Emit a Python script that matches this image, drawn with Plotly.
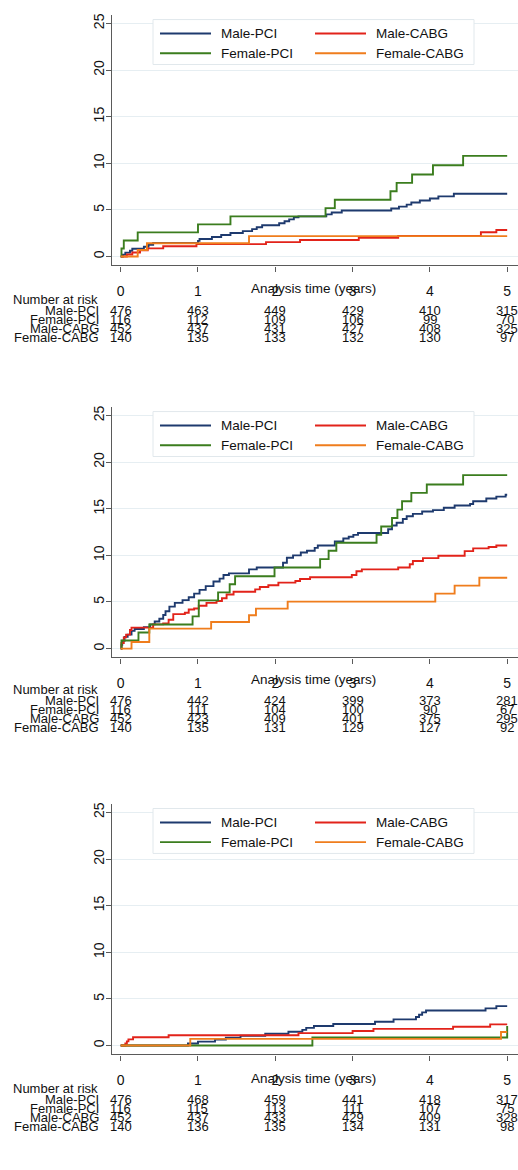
import plotly.graph_objects as go

# ---------------- data ----------------
groups = ["Male-PCI", "Male-CABG", "Female-PCI", "Female-CABG"]
table_groups = ["Male-PCI", "Female-PCI", "Male-CABG", "Female-CABG"]
risk_times = [0, 1, 2, 3, 4, 5]
y_ticks = [0, 5, 10, 15, 20, 25]

# Panel 1 cumulative incidence (%) step points
p1_mpci_t = [0, 0.03, 0.06, 0.12, 0.15, 0.30, 0.36, 0.42, 1.00, 1.02, 1.18, 1.30, 1.42, 1.58, 1.70, 1.76, 1.83, 2.05, 2.12, 2.18, 2.24, 2.30, 2.66, 2.73, 2.86, 3.50, 3.60, 3.70, 3.76, 3.87, 4.00, 4.11, 4.31, 5.00]
p1_mpci_v = [0, 0.21, 0.42, 0.63, 0.84, 1.05, 1.26, 1.47, 1.68, 1.89, 2.10, 2.31, 2.52, 2.73, 2.94, 3.15, 3.36, 3.57, 3.78, 3.99, 4.20, 4.31, 4.52, 4.73, 4.94, 5.15, 5.36, 5.57, 5.80, 6.01, 6.22, 6.45, 6.73, 6.73]
p1_fpci_t = [0, 0.01, 0.04, 0.22, 1.00, 1.42, 2.65, 2.77, 3.49, 3.57, 3.77, 4.04, 4.43, 5.00]
p1_fpci_v = [0, 0.86, 1.72, 2.59, 3.45, 4.31, 5.20, 6.10, 7.00, 7.90, 8.80, 9.80, 10.80, 10.80]
p1_mcabg_t = [0, 0.08, 0.15, 0.25, 0.35, 0.55, 0.98, 1.88, 2.32, 3.08, 3.59, 4.66, 4.86, 5.00]
p1_mcabg_v = [0, 0.22, 0.44, 0.66, 0.88, 1.10, 1.33, 1.55, 1.77, 2.00, 2.22, 2.60, 2.85, 2.85]
p1_fcabg_t = [0, 0.22, 0.34, 1.66, 5.00]
p1_fcabg_v = [0, 0.71, 1.43, 2.19, 2.19]

# Panel 2
p2_mpci_t = [0, 0.01, 0.02, 0.05, 0.09, 0.14, 0.18, 0.30, 0.38, 0.44, 0.50, 0.55, 0.58, 0.63, 0.70, 0.80, 0.88, 0.95, 1.02, 1.10, 1.20, 1.28, 1.33, 1.40, 1.66, 1.76, 2.10, 2.15, 2.23, 2.33, 2.41, 2.51, 2.55, 2.77, 2.88, 2.95, 3.01, 3.07, 3.46, 3.51, 3.57, 3.65, 3.70, 3.78, 3.90, 4.04, 4.18, 4.32, 4.52, 4.56, 4.73, 4.86, 4.98, 5.00]
p2_mpci_v = [0, 0.42, 0.84, 1.26, 1.50, 1.90, 2.10, 2.30, 2.60, 2.90, 3.20, 3.60, 4.00, 4.50, 4.90, 5.20, 5.50, 5.90, 6.30, 6.70, 7.20, 7.50, 7.90, 8.07, 8.50, 8.70, 9.20, 9.75, 10.00, 10.30, 10.50, 10.80, 11.05, 11.50, 11.80, 12.00, 12.20, 12.40, 12.80, 13.20, 13.50, 13.90, 14.20, 14.45, 14.70, 14.85, 15.10, 15.35, 15.50, 15.80, 16.10, 16.30, 16.50, 16.50]
p2_fpci_t = [0, 0.01, 0.23, 0.37, 0.93, 1.01, 1.26, 1.41, 1.48, 1.99, 2.58, 2.69, 2.79, 3.31, 3.37, 3.51, 3.58, 3.64, 3.76, 3.96, 4.43, 5.00]
p2_fpci_v = [0, 0.86, 1.72, 2.59, 3.45, 5.17, 6.03, 6.90, 7.76, 8.70, 9.60, 10.50, 11.35, 12.20, 13.10, 14.00, 14.90, 15.80, 16.70, 17.60, 18.60, 18.60]
p2_mcabg_t = [0, 0.01, 0.04, 0.07, 0.12, 0.14, 0.42, 0.55, 0.62, 0.68, 0.83, 0.88, 0.95, 1.01, 1.11, 1.24, 1.31, 1.37, 1.46, 1.74, 1.80, 1.91, 2.04, 2.26, 2.32, 2.45, 2.99, 3.05, 3.12, 3.59, 3.74, 3.78, 3.91, 4.11, 4.45, 4.56, 4.76, 4.86, 5.00]
p2_mcabg_v = [0, 0.60, 1.20, 1.50, 2.00, 2.25, 2.60, 2.70, 3.10, 3.70, 3.85, 4.20, 4.30, 4.60, 4.90, 5.10, 5.40, 5.80, 6.10, 6.35, 6.60, 6.80, 7.07, 7.25, 7.46, 7.65, 7.90, 8.30, 8.50, 8.70, 9.05, 9.40, 9.70, 9.95, 10.45, 10.75, 10.90, 11.05, 11.05]
p2_fcabg_t = [0, 0.14, 0.37, 1.17, 1.66, 1.75, 2.16, 4.07, 4.32, 4.64, 5.00]
p2_fcabg_v = [0, 0.71, 2.14, 2.86, 3.57, 4.29, 5.04, 5.90, 6.75, 7.60, 7.60]

# Panel 3
p3_mpci_t = [0, 0.87, 1.00, 1.22, 1.36, 1.55, 1.87, 2.17, 2.35, 2.40, 2.50, 2.75, 3.29, 3.53, 3.82, 3.86, 3.90, 3.95, 4.72, 4.86, 5.00]
p3_mpci_v = [0, 0.21, 0.42, 0.63, 0.84, 1.05, 1.26, 1.47, 1.68, 1.89, 2.10, 2.31, 2.55, 2.80, 3.05, 3.30, 3.55, 3.75, 3.98, 4.22, 4.22]
p3_fpci_t = [0, 2.48, 5.00]
p3_fpci_v = [0, 0.86, 2.10]
p3_mcabg_t = [0, 0.06, 0.08, 0.10, 0.16, 0.62, 2.30, 3.00, 3.27, 4.30, 4.78, 5.00]
p3_mcabg_v = [0, 0.22, 0.44, 0.66, 0.88, 1.10, 1.33, 1.55, 1.78, 2.02, 2.27, 2.27]
p3_fcabg_t = [0, 0.90, 4.92, 5.00]
p3_fcabg_v = [0, 0.71, 1.45, 1.45]

# Number at risk tables
p1_risk_mpci = [476, 463, 449, 429, 410, 315]
p1_risk_fpci = [116, 112, 109, 106, 99, 70]
p1_risk_mcabg = [452, 437, 431, 427, 408, 325]
p1_risk_fcabg = [140, 135, 133, 132, 130, 97]
p2_risk_mpci = [476, 442, 424, 399, 373, 281]
p2_risk_fpci = [116, 111, 104, 100, 90, 67]
p2_risk_mcabg = [452, 423, 409, 401, 375, 295]
p2_risk_fcabg = [140, 135, 131, 129, 127, 92]
p3_risk_mpci = [476, 468, 459, 441, 418, 317]
p3_risk_fpci = [116, 115, 113, 111, 107, 75]
p3_risk_mcabg = [452, 437, 433, 429, 409, 328]
p3_risk_fcabg = [140, 136, 135, 134, 131, 98]

# ---------------- styling / layout ----------------
W, H = 518, 1170
FONT = "Liberation Sans, Arial, sans-serif"
FS = 13.5
FS_TAB = 13
AXC = "#5a5a5a"
colors = {"Male-PCI": "#1e3a6e", "Male-CABG": "#e2231a",
          "Female-PCI": "#3b7d1e", "Female-CABG": "#ef7d1d"}

panels = [
    {"curves": {"Male-PCI": (p1_mpci_t, p1_mpci_v), "Male-CABG": (p1_mcabg_t, p1_mcabg_v),
                "Female-PCI": (p1_fpci_t, p1_fpci_v), "Female-CABG": (p1_fcabg_t, p1_fcabg_v)},
     "risk": {"Male-PCI": p1_risk_mpci, "Female-PCI": p1_risk_fpci,
              "Male-CABG": p1_risk_mcabg, "Female-CABG": p1_risk_fcabg},
     "y0": 255.0, "tshift": 0.0},
    {"curves": {"Male-PCI": (p2_mpci_t, p2_mpci_v), "Male-CABG": (p2_mcabg_t, p2_mcabg_v),
                "Female-PCI": (p2_fpci_t, p2_fpci_v), "Female-CABG": (p2_fcabg_t, p2_fcabg_v)},
     "risk": {"Male-PCI": p2_risk_mpci, "Female-PCI": p2_risk_fpci,
              "Male-CABG": p2_risk_mcabg, "Female-CABG": p2_risk_fcabg},
     "y0": 647.7, "tshift": -1.8},
    {"curves": {"Male-PCI": (p3_mpci_t, p3_mpci_v), "Male-CABG": (p3_mcabg_t, p3_mcabg_v),
                "Female-PCI": (p3_fpci_t, p3_fpci_v), "Female-CABG": (p3_fcabg_t, p3_fcabg_v)},
     "risk": {"Male-PCI": p3_risk_mpci, "Female-PCI": p3_risk_fpci,
              "Male-CABG": p3_risk_mcabg, "Female-CABG": p3_risk_fcabg},
     "y0": 1045.3, "tshift": 0.3},
]

SCALE = 9.34          # px per y unit
YR = [-0.95, 25.9]
XR = [-0.1125, 5.14]
X_LEFT = 112

# legend box geometry (pixels)
LEG_L, LEG_R, LEG_H = 153, 474, 45
LEG_COL_X = [160, 315]
LEG_LINE_LEN = 51
LEG_TEXT_DX = 59
LEG_ROW_DY = [14, 33.7]


def xp(px):
    return px / W


def yp(py):
    return 1 - py / H


fig = go.Figure()
layout = dict(width=W, height=H, margin=dict(l=0, r=0, t=0, b=0),
              paper_bgcolor="white", plot_bgcolor="white",
              font=dict(family=FONT, size=FS, color="#111"),
              showlegend=False, annotations=[], shapes=[])

for k, p in enumerate(panels):
    n = k + 1
    xa = "x" if n == 1 else f"x{n}"
    ya = "y" if n == 1 else f"y{n}"
    bottom = p["y0"] - YR[0] * SCALE
    top = p["y0"] - YR[1] * SCALE
    for g in groups:
        t, v = p["curves"][g]
        fig.add_trace(go.Scatter(x=t, y=v, mode="lines", line=dict(color=colors[g], width=1.9, shape="hv"),
                                 name=g, xaxis=xa, yaxis=ya, hoverinfo="skip", showlegend=False))
    axl = dict(showline=True, linecolor=AXC, linewidth=1.4, ticks="outside",
               ticklen=5, tickwidth=1.2, tickcolor=AXC, zeroline=False,
               tickfont=dict(family=FONT, size=14, color="#111"))
    layout["xaxis" if n == 1 else f"xaxis{n}"] = dict(
        axl, domain=[X_LEFT / W, 1.0], range=XR, tickvals=risk_times, showgrid=False,
        anchor=ya, ticklabelstandoff=8)
    layout["yaxis" if n == 1 else f"yaxis{n}"] = dict(
        axl, domain=[yp(bottom), yp(top)], range=YR, tickvals=y_ticks,
        tickangle=-90, showgrid=True, gridcolor="#e6eef2", gridwidth=1, anchor=xa,
        ticklabelstandoff=-4)

    # legend (boxed, two columns)
    ltop = top + 4.5
    layout["shapes"].append(dict(type="rect", xref="paper", yref="paper", layer="above",
                                 x0=xp(LEG_L), x1=xp(LEG_R), y0=yp(ltop + LEG_H), y1=yp(ltop),
                                 line=dict(color="#e1e8ec", width=1), fillcolor="white"))
    for i, g in enumerate(groups):
        r, c = divmod(i, 2)
        ly = yp(ltop + LEG_ROW_DY[r])
        layout["shapes"].append(dict(type="line", xref="paper", yref="paper", layer="above",
                                     x0=xp(LEG_COL_X[c]), x1=xp(LEG_COL_X[c] + LEG_LINE_LEN),
                                     y0=ly, y1=ly, line=dict(color=colors[g], width=1.9)))
        layout["annotations"].append(dict(text=g, xref="paper", yref="paper",
                                          x=xp(LEG_COL_X[c] + LEG_TEXT_DX), y=ly,
                                          xanchor="left", yanchor="middle", showarrow=False,
                                          font=dict(size=FS)))

    # axis title and number at risk table
    tb = bottom + p["tshift"]
    layout["annotations"].append(dict(text="Analysis time (years)", xref=xa, yref="paper", x=2.5,
                                      y=yp(tb + 23.5), xanchor="center", yanchor="middle",
                                      showarrow=False, font=dict(size=FS)))
    layout["annotations"].append(dict(text="Number at risk", xref="paper", yref="paper", x=xp(11),
                                      y=yp(tb + 34.3), xanchor="left", yanchor="middle",
                                      showarrow=False, font=dict(size=FS_TAB)))
    for r, g in enumerate(table_groups):
        ypos = yp(tb + 44.7 + r * 9.25)
        layout["annotations"].append(dict(text=g, xref="paper", yref="paper", x=xp(101), y=ypos,
                                          xanchor="right", yanchor="middle", showarrow=False,
                                          font=dict(size=FS_TAB)))
        for tt, val in zip(risk_times, p["risk"][g]):
            layout["annotations"].append(dict(text=str(val), xref=xa, yref="paper", x=tt, y=ypos,
                                              xanchor="center", yanchor="middle", showarrow=False,
                                              font=dict(size=FS_TAB)))

fig.update_layout(**layout)
fig.write_html("out.html", config={"displayModeBar": False},
               post_script="document.body.style.margin='0px';document.body.style.overflow='hidden';")
